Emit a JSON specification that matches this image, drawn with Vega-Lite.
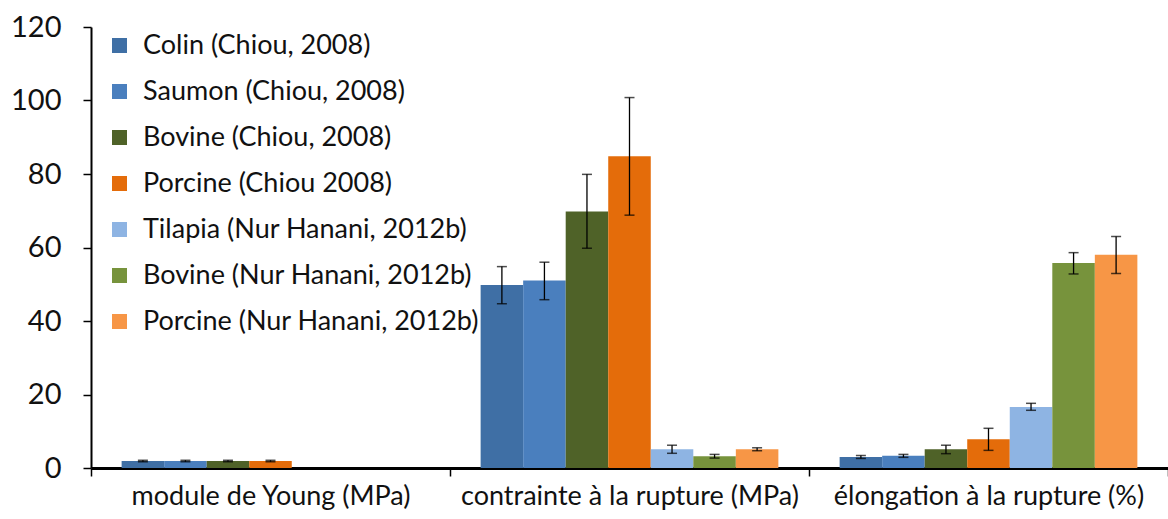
{
  "$schema": "https://vega.github.io/schema/vega-lite/v6.json",
  "autosize": {"type": "none"},
  "padding": {"left": 91, "top": 27, "right": 0, "bottom": 51},
  "width": 1077,
  "height": 441,
  "background": "white",
  "config": {
    "view": {"stroke": null},
    "font": "Lato",
    "axis": {"grid": false, "domainColor": "black", "tickColor": "black", "labelColor": "#111", "labelFont": "Lato"}
  },
  "data": {
    "values": [
      {"param": "module de Young (MPa)", "serie": "Colin (Chiou, 2008)", "value": 1.9, "lo": 1.7, "hi": 2.1},
      {"param": "module de Young (MPa)", "serie": "Saumon (Chiou, 2008)", "value": 1.9, "lo": 1.7, "hi": 2.1},
      {"param": "module de Young (MPa)", "serie": "Bovine (Chiou, 2008)", "value": 1.9, "lo": 1.7, "hi": 2.1},
      {"param": "module de Young (MPa)", "serie": "Porcine (Chiou 2008)", "value": 1.9, "lo": 1.7, "hi": 2.1},
      {"param": "contrainte à la rupture (MPa)", "serie": "Colin (Chiou, 2008)", "value": 49.8, "lo": 44.7, "hi": 54.8},
      {"param": "contrainte à la rupture (MPa)", "serie": "Saumon (Chiou, 2008)", "value": 51, "lo": 45.8, "hi": 56},
      {"param": "contrainte à la rupture (MPa)", "serie": "Bovine (Chiou, 2008)", "value": 69.8, "lo": 59.8, "hi": 79.9},
      {"param": "contrainte à la rupture (MPa)", "serie": "Porcine (Chiou 2008)", "value": 84.8, "lo": 68.8, "hi": 100.8},
      {"param": "contrainte à la rupture (MPa)", "serie": "Tilapia (Nur Hanani, 2012b)", "value": 5.1, "lo": 4.0, "hi": 6.2},
      {"param": "contrainte à la rupture (MPa)", "serie": "Bovine (Nur Hanani, 2012b)", "value": 3.2, "lo": 2.7, "hi": 3.7},
      {"param": "contrainte à la rupture (MPa)", "serie": "Porcine (Nur Hanani, 2012b)", "value": 5.1, "lo": 4.7, "hi": 5.5},
      {"param": "élongation à la rupture (%)", "serie": "Colin (Chiou, 2008)", "value": 3.0, "lo": 2.6, "hi": 3.4},
      {"param": "élongation à la rupture (%)", "serie": "Saumon (Chiou, 2008)", "value": 3.3, "lo": 2.9, "hi": 3.7},
      {"param": "élongation à la rupture (%)", "serie": "Bovine (Chiou, 2008)", "value": 5.1, "lo": 3.9, "hi": 6.2},
      {"param": "élongation à la rupture (%)", "serie": "Porcine (Chiou 2008)", "value": 7.8, "lo": 4.8, "hi": 10.8},
      {"param": "élongation à la rupture (%)", "serie": "Tilapia (Nur Hanani, 2012b)", "value": 16.6, "lo": 15.7, "hi": 17.6},
      {"param": "élongation à la rupture (%)", "serie": "Bovine (Nur Hanani, 2012b)", "value": 55.8, "lo": 52.8, "hi": 58.6},
      {"param": "élongation à la rupture (%)", "serie": "Porcine (Nur Hanani, 2012b)", "value": 58, "lo": 52.9, "hi": 63}
    ]
  },
  "encoding": {
    "x": {
      "field": "param", "type": "nominal",
      "sort": ["module de Young (MPa)", "contrainte à la rupture (MPa)", "élongation à la rupture (%)"],
      "scale": {"paddingInner": 0, "paddingOuter": 0},
      "axis": {"title": null, "labelAngle": 0, "labelFontSize": 27, "labelLimit": 600, "labelPadding": 7, "tickBand": "extent", "tickSize": 8, "tickWidth": 1.5, "domainWidth": 3}
    },
    "xOffset": {
      "field": "serie", "type": "nominal",
      "sort": ["Colin (Chiou, 2008)", "Saumon (Chiou, 2008)", "Bovine (Chiou, 2008)", "Porcine (Chiou 2008)", "Tilapia (Nur Hanani, 2012b)", "Bovine (Nur Hanani, 2012b)", "Porcine (Nur Hanani, 2012b)"],
      "scale": {"paddingInner": 0, "paddingOuter": 0.72}
    }
  },
  "layer": [
    {
      "mark": {"type": "bar"},
      "encoding": {
        "y": {
          "field": "value", "type": "quantitative",
          "scale": {"domain": [0, 120], "nice": false},
          "axis": {"title": null, "values": [0, 20, 40, 60, 80, 100, 120], "labelFontSize": 29, "labelPadding": 22, "tickSize": 8, "tickWidth": 1.5, "domainWidth": 2}
        },
        "color": {
          "field": "serie", "type": "nominal",
          "sort": ["Colin (Chiou, 2008)", "Saumon (Chiou, 2008)", "Bovine (Chiou, 2008)", "Porcine (Chiou 2008)", "Tilapia (Nur Hanani, 2012b)", "Bovine (Nur Hanani, 2012b)", "Porcine (Nur Hanani, 2012b)"],
          "scale": {
            "domain": ["Colin (Chiou, 2008)", "Saumon (Chiou, 2008)", "Bovine (Chiou, 2008)", "Porcine (Chiou 2008)", "Tilapia (Nur Hanani, 2012b)", "Bovine (Nur Hanani, 2012b)", "Porcine (Nur Hanani, 2012b)"],
            "range": ["#3F6FA5", "#4A7FBE", "#4F6228", "#E46C0A", "#8EB4E3", "#77933C", "#F79646"]
          },
          "legend": {
            "title": null, "orient": "none", "legendX": 15, "legendY": 5,
            "symbolType": "square", "symbolSize": 225, "symbolStrokeWidth": 0,
            "labelFontSize": 27, "labelFont": "Lato", "labelColor": "#111", "rowPadding": 18, "labelOffset": 10, "labelLimit": 600
          }
        }
      }
    },
    {
      "mark": {"type": "rule", "color": "black", "strokeWidth": 1.3},
      "encoding": {
        "y": {"field": "lo", "type": "quantitative"},
        "y2": {"field": "hi"}
      }
    },
    {
      "mark": {"type": "tick", "color": "black", "size": 10, "thickness": 1.5},
      "encoding": {"y": {"field": "lo", "type": "quantitative"}}
    },
    {
      "mark": {"type": "tick", "color": "black", "size": 10, "thickness": 1.5},
      "encoding": {"y": {"field": "hi", "type": "quantitative"}}
    }
  ]
}
